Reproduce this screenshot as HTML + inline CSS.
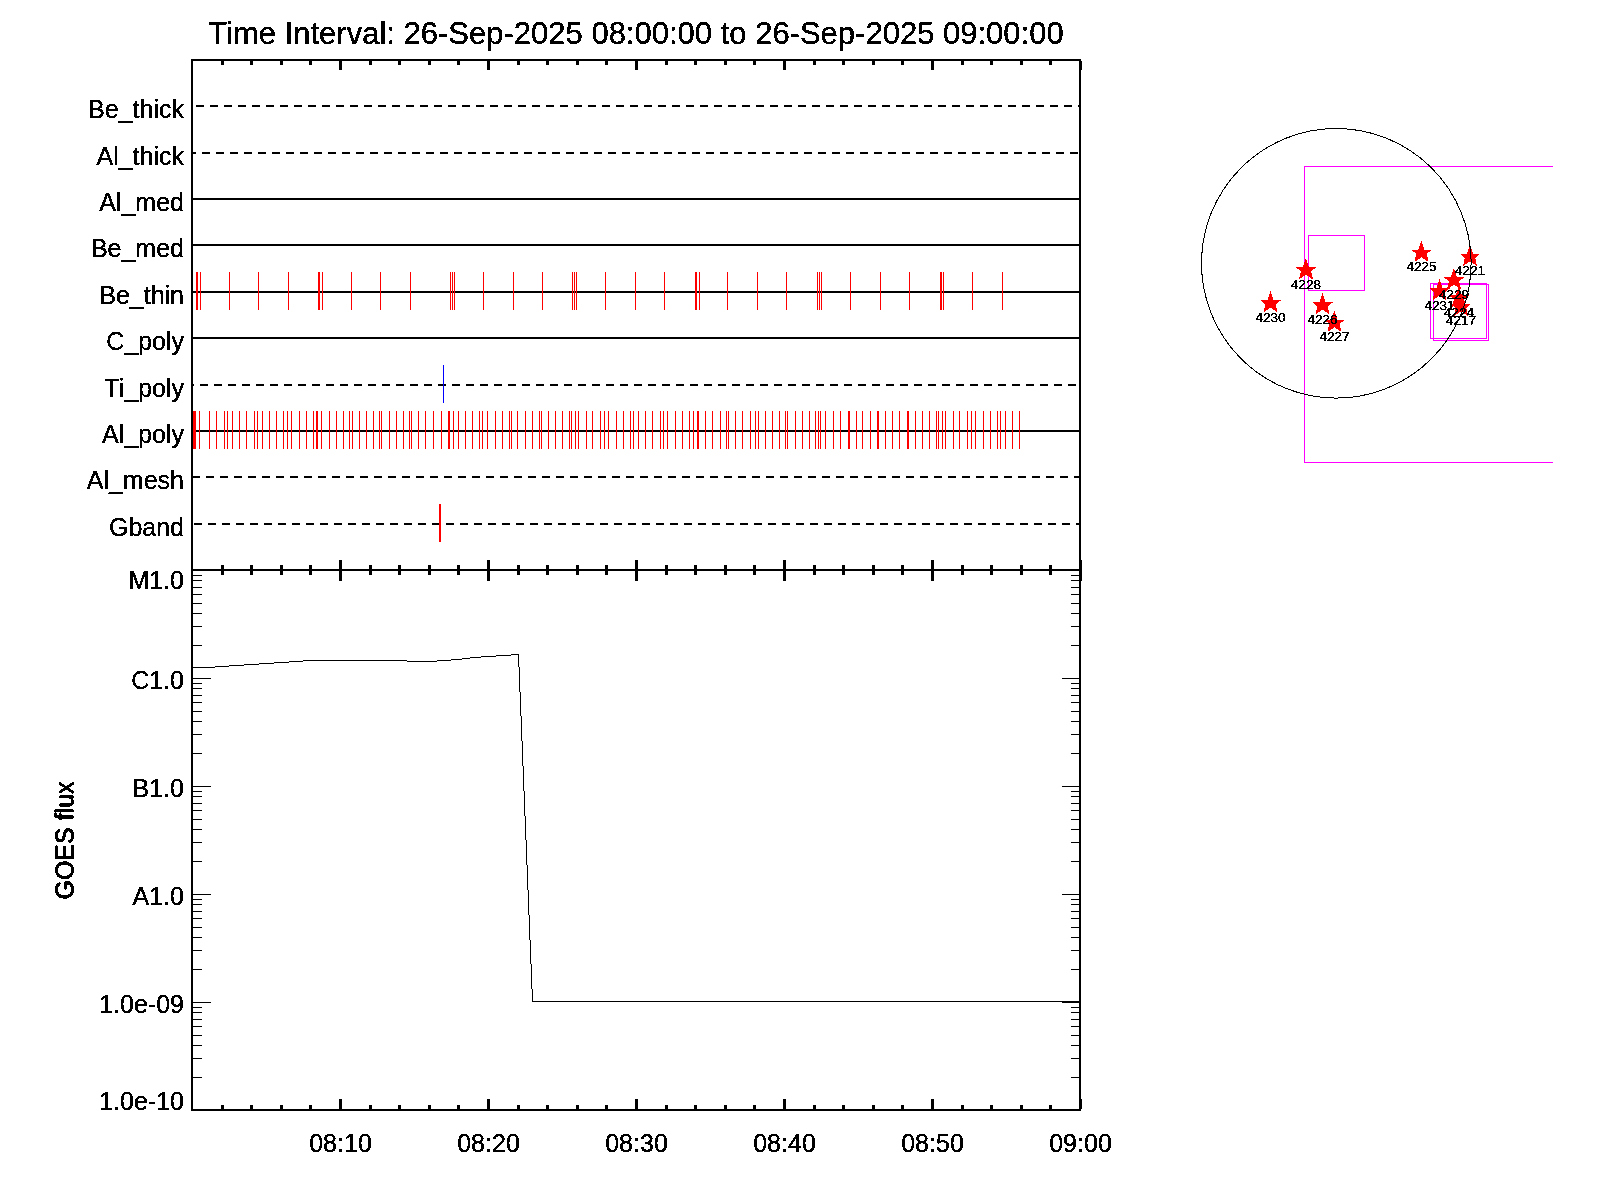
<!DOCTYPE html>
<html><head><meta charset="utf-8"><title>plot</title>
<style>html,body{margin:0;padding:0;background:#fff;width:1600px;height:1200px;overflow:hidden} svg{display:block} text{font-family:"Liberation Sans",sans-serif}</style>
</head><body>
<svg width="1600" height="1200" viewBox="0 0 1600 1200" shape-rendering="crispEdges" font-family='"Liberation Sans", sans-serif' fill="#000"><defs><filter id="al" filterUnits="userSpaceOnUse" x="0" y="0" width="1600" height="1200" color-interpolation-filters="sRGB"><feComponentTransfer><feFuncA type="discrete" tableValues="0 1 1 1"/></feComponentTransfer></filter></defs><rect x="191" y="59" width="890" height="2" fill="#000"/>
<rect x="191" y="569" width="890" height="2" fill="#000"/>
<rect x="191" y="1109" width="890" height="2" fill="#000"/>
<rect x="191" y="59" width="2" height="1052" fill="#000"/>
<rect x="1079" y="59" width="2" height="1052" fill="#000"/>
<rect x="221" y="61" width="3" height="4" fill="#000"/>
<rect x="221" y="565" width="3" height="10" fill="#000"/>
<rect x="221" y="1105" width="3" height="4" fill="#000"/>
<rect x="250" y="61" width="3" height="4" fill="#000"/>
<rect x="250" y="565" width="3" height="10" fill="#000"/>
<rect x="250" y="1105" width="3" height="4" fill="#000"/>
<rect x="280" y="61" width="3" height="4" fill="#000"/>
<rect x="280" y="565" width="3" height="10" fill="#000"/>
<rect x="280" y="1105" width="3" height="4" fill="#000"/>
<rect x="309" y="61" width="3" height="4" fill="#000"/>
<rect x="309" y="565" width="3" height="10" fill="#000"/>
<rect x="309" y="1105" width="3" height="4" fill="#000"/>
<rect x="339" y="61" width="3" height="9" fill="#000"/>
<rect x="339" y="560" width="3" height="21" fill="#000"/>
<rect x="339" y="1099" width="3" height="10" fill="#000"/>
<rect x="369" y="61" width="3" height="4" fill="#000"/>
<rect x="369" y="565" width="3" height="10" fill="#000"/>
<rect x="369" y="1105" width="3" height="4" fill="#000"/>
<rect x="398" y="61" width="3" height="4" fill="#000"/>
<rect x="398" y="565" width="3" height="10" fill="#000"/>
<rect x="398" y="1105" width="3" height="4" fill="#000"/>
<rect x="428" y="61" width="3" height="4" fill="#000"/>
<rect x="428" y="565" width="3" height="10" fill="#000"/>
<rect x="428" y="1105" width="3" height="4" fill="#000"/>
<rect x="457" y="61" width="3" height="4" fill="#000"/>
<rect x="457" y="565" width="3" height="10" fill="#000"/>
<rect x="457" y="1105" width="3" height="4" fill="#000"/>
<rect x="487" y="61" width="3" height="9" fill="#000"/>
<rect x="487" y="560" width="3" height="21" fill="#000"/>
<rect x="487" y="1099" width="3" height="10" fill="#000"/>
<rect x="517" y="61" width="3" height="4" fill="#000"/>
<rect x="517" y="565" width="3" height="10" fill="#000"/>
<rect x="517" y="1105" width="3" height="4" fill="#000"/>
<rect x="546" y="61" width="3" height="4" fill="#000"/>
<rect x="546" y="565" width="3" height="10" fill="#000"/>
<rect x="546" y="1105" width="3" height="4" fill="#000"/>
<rect x="576" y="61" width="3" height="4" fill="#000"/>
<rect x="576" y="565" width="3" height="10" fill="#000"/>
<rect x="576" y="1105" width="3" height="4" fill="#000"/>
<rect x="605" y="61" width="3" height="4" fill="#000"/>
<rect x="605" y="565" width="3" height="10" fill="#000"/>
<rect x="605" y="1105" width="3" height="4" fill="#000"/>
<rect x="635" y="61" width="3" height="9" fill="#000"/>
<rect x="635" y="560" width="3" height="21" fill="#000"/>
<rect x="635" y="1099" width="3" height="10" fill="#000"/>
<rect x="665" y="61" width="3" height="4" fill="#000"/>
<rect x="665" y="565" width="3" height="10" fill="#000"/>
<rect x="665" y="1105" width="3" height="4" fill="#000"/>
<rect x="694" y="61" width="3" height="4" fill="#000"/>
<rect x="694" y="565" width="3" height="10" fill="#000"/>
<rect x="694" y="1105" width="3" height="4" fill="#000"/>
<rect x="724" y="61" width="3" height="4" fill="#000"/>
<rect x="724" y="565" width="3" height="10" fill="#000"/>
<rect x="724" y="1105" width="3" height="4" fill="#000"/>
<rect x="753" y="61" width="3" height="4" fill="#000"/>
<rect x="753" y="565" width="3" height="10" fill="#000"/>
<rect x="753" y="1105" width="3" height="4" fill="#000"/>
<rect x="783" y="61" width="3" height="9" fill="#000"/>
<rect x="783" y="560" width="3" height="21" fill="#000"/>
<rect x="783" y="1099" width="3" height="10" fill="#000"/>
<rect x="813" y="61" width="3" height="4" fill="#000"/>
<rect x="813" y="565" width="3" height="10" fill="#000"/>
<rect x="813" y="1105" width="3" height="4" fill="#000"/>
<rect x="842" y="61" width="3" height="4" fill="#000"/>
<rect x="842" y="565" width="3" height="10" fill="#000"/>
<rect x="842" y="1105" width="3" height="4" fill="#000"/>
<rect x="872" y="61" width="3" height="4" fill="#000"/>
<rect x="872" y="565" width="3" height="10" fill="#000"/>
<rect x="872" y="1105" width="3" height="4" fill="#000"/>
<rect x="901" y="61" width="3" height="4" fill="#000"/>
<rect x="901" y="565" width="3" height="10" fill="#000"/>
<rect x="901" y="1105" width="3" height="4" fill="#000"/>
<rect x="931" y="61" width="3" height="9" fill="#000"/>
<rect x="931" y="560" width="3" height="21" fill="#000"/>
<rect x="931" y="1099" width="3" height="10" fill="#000"/>
<rect x="961" y="61" width="3" height="4" fill="#000"/>
<rect x="961" y="565" width="3" height="10" fill="#000"/>
<rect x="961" y="1105" width="3" height="4" fill="#000"/>
<rect x="990" y="61" width="3" height="4" fill="#000"/>
<rect x="990" y="565" width="3" height="10" fill="#000"/>
<rect x="990" y="1105" width="3" height="4" fill="#000"/>
<rect x="1020" y="61" width="3" height="4" fill="#000"/>
<rect x="1020" y="565" width="3" height="10" fill="#000"/>
<rect x="1020" y="1105" width="3" height="4" fill="#000"/>
<rect x="1049" y="61" width="3" height="4" fill="#000"/>
<rect x="1049" y="565" width="3" height="10" fill="#000"/>
<rect x="1049" y="1105" width="3" height="4" fill="#000"/>
<rect x="1079" y="61" width="3" height="9" fill="#000"/>
<rect x="1079" y="560" width="3" height="21" fill="#000"/>
<rect x="1079" y="1099" width="3" height="10" fill="#000"/>
<rect x="196" y="105" width="8" height="2" fill="#000"/>
<rect x="210" y="105" width="8" height="2" fill="#000"/>
<rect x="224" y="105" width="8" height="2" fill="#000"/>
<rect x="238" y="105" width="8" height="2" fill="#000"/>
<rect x="252" y="105" width="8" height="2" fill="#000"/>
<rect x="266" y="105" width="8" height="2" fill="#000"/>
<rect x="280" y="105" width="8" height="2" fill="#000"/>
<rect x="294" y="105" width="8" height="2" fill="#000"/>
<rect x="308" y="105" width="8" height="2" fill="#000"/>
<rect x="322" y="105" width="8" height="2" fill="#000"/>
<rect x="336" y="105" width="8" height="2" fill="#000"/>
<rect x="350" y="105" width="8" height="2" fill="#000"/>
<rect x="364" y="105" width="8" height="2" fill="#000"/>
<rect x="378" y="105" width="8" height="2" fill="#000"/>
<rect x="392" y="105" width="8" height="2" fill="#000"/>
<rect x="406" y="105" width="8" height="2" fill="#000"/>
<rect x="420" y="105" width="8" height="2" fill="#000"/>
<rect x="434" y="105" width="8" height="2" fill="#000"/>
<rect x="448" y="105" width="8" height="2" fill="#000"/>
<rect x="462" y="105" width="8" height="2" fill="#000"/>
<rect x="476" y="105" width="8" height="2" fill="#000"/>
<rect x="490" y="105" width="8" height="2" fill="#000"/>
<rect x="504" y="105" width="8" height="2" fill="#000"/>
<rect x="518" y="105" width="8" height="2" fill="#000"/>
<rect x="532" y="105" width="8" height="2" fill="#000"/>
<rect x="546" y="105" width="8" height="2" fill="#000"/>
<rect x="560" y="105" width="8" height="2" fill="#000"/>
<rect x="574" y="105" width="8" height="2" fill="#000"/>
<rect x="588" y="105" width="8" height="2" fill="#000"/>
<rect x="602" y="105" width="8" height="2" fill="#000"/>
<rect x="616" y="105" width="8" height="2" fill="#000"/>
<rect x="630" y="105" width="8" height="2" fill="#000"/>
<rect x="644" y="105" width="8" height="2" fill="#000"/>
<rect x="658" y="105" width="8" height="2" fill="#000"/>
<rect x="672" y="105" width="8" height="2" fill="#000"/>
<rect x="686" y="105" width="8" height="2" fill="#000"/>
<rect x="700" y="105" width="8" height="2" fill="#000"/>
<rect x="714" y="105" width="8" height="2" fill="#000"/>
<rect x="728" y="105" width="8" height="2" fill="#000"/>
<rect x="742" y="105" width="8" height="2" fill="#000"/>
<rect x="756" y="105" width="8" height="2" fill="#000"/>
<rect x="770" y="105" width="8" height="2" fill="#000"/>
<rect x="784" y="105" width="8" height="2" fill="#000"/>
<rect x="798" y="105" width="8" height="2" fill="#000"/>
<rect x="812" y="105" width="8" height="2" fill="#000"/>
<rect x="826" y="105" width="8" height="2" fill="#000"/>
<rect x="840" y="105" width="8" height="2" fill="#000"/>
<rect x="854" y="105" width="8" height="2" fill="#000"/>
<rect x="868" y="105" width="8" height="2" fill="#000"/>
<rect x="882" y="105" width="8" height="2" fill="#000"/>
<rect x="896" y="105" width="8" height="2" fill="#000"/>
<rect x="910" y="105" width="8" height="2" fill="#000"/>
<rect x="924" y="105" width="8" height="2" fill="#000"/>
<rect x="938" y="105" width="8" height="2" fill="#000"/>
<rect x="952" y="105" width="8" height="2" fill="#000"/>
<rect x="966" y="105" width="8" height="2" fill="#000"/>
<rect x="980" y="105" width="8" height="2" fill="#000"/>
<rect x="994" y="105" width="8" height="2" fill="#000"/>
<rect x="1008" y="105" width="8" height="2" fill="#000"/>
<rect x="1022" y="105" width="8" height="2" fill="#000"/>
<rect x="1036" y="105" width="8" height="2" fill="#000"/>
<rect x="1050" y="105" width="8" height="2" fill="#000"/>
<rect x="1064" y="105" width="8" height="2" fill="#000"/>
<rect x="1078" y="105" width="1" height="2" fill="#000"/>
<rect x="193" y="152" width="3" height="2" fill="#000"/>
<rect x="202" y="152" width="8" height="2" fill="#000"/>
<rect x="216" y="152" width="8" height="2" fill="#000"/>
<rect x="230" y="152" width="8" height="2" fill="#000"/>
<rect x="244" y="152" width="8" height="2" fill="#000"/>
<rect x="258" y="152" width="8" height="2" fill="#000"/>
<rect x="272" y="152" width="8" height="2" fill="#000"/>
<rect x="286" y="152" width="8" height="2" fill="#000"/>
<rect x="300" y="152" width="8" height="2" fill="#000"/>
<rect x="314" y="152" width="8" height="2" fill="#000"/>
<rect x="328" y="152" width="8" height="2" fill="#000"/>
<rect x="342" y="152" width="8" height="2" fill="#000"/>
<rect x="356" y="152" width="8" height="2" fill="#000"/>
<rect x="370" y="152" width="8" height="2" fill="#000"/>
<rect x="384" y="152" width="8" height="2" fill="#000"/>
<rect x="398" y="152" width="8" height="2" fill="#000"/>
<rect x="412" y="152" width="8" height="2" fill="#000"/>
<rect x="426" y="152" width="8" height="2" fill="#000"/>
<rect x="440" y="152" width="8" height="2" fill="#000"/>
<rect x="454" y="152" width="8" height="2" fill="#000"/>
<rect x="468" y="152" width="8" height="2" fill="#000"/>
<rect x="482" y="152" width="8" height="2" fill="#000"/>
<rect x="496" y="152" width="8" height="2" fill="#000"/>
<rect x="510" y="152" width="8" height="2" fill="#000"/>
<rect x="524" y="152" width="8" height="2" fill="#000"/>
<rect x="538" y="152" width="8" height="2" fill="#000"/>
<rect x="552" y="152" width="8" height="2" fill="#000"/>
<rect x="566" y="152" width="8" height="2" fill="#000"/>
<rect x="580" y="152" width="8" height="2" fill="#000"/>
<rect x="594" y="152" width="8" height="2" fill="#000"/>
<rect x="608" y="152" width="8" height="2" fill="#000"/>
<rect x="622" y="152" width="8" height="2" fill="#000"/>
<rect x="636" y="152" width="8" height="2" fill="#000"/>
<rect x="650" y="152" width="8" height="2" fill="#000"/>
<rect x="664" y="152" width="8" height="2" fill="#000"/>
<rect x="678" y="152" width="8" height="2" fill="#000"/>
<rect x="692" y="152" width="8" height="2" fill="#000"/>
<rect x="706" y="152" width="8" height="2" fill="#000"/>
<rect x="720" y="152" width="8" height="2" fill="#000"/>
<rect x="734" y="152" width="8" height="2" fill="#000"/>
<rect x="748" y="152" width="8" height="2" fill="#000"/>
<rect x="762" y="152" width="8" height="2" fill="#000"/>
<rect x="776" y="152" width="8" height="2" fill="#000"/>
<rect x="790" y="152" width="8" height="2" fill="#000"/>
<rect x="804" y="152" width="8" height="2" fill="#000"/>
<rect x="818" y="152" width="8" height="2" fill="#000"/>
<rect x="832" y="152" width="8" height="2" fill="#000"/>
<rect x="846" y="152" width="8" height="2" fill="#000"/>
<rect x="860" y="152" width="8" height="2" fill="#000"/>
<rect x="874" y="152" width="8" height="2" fill="#000"/>
<rect x="888" y="152" width="8" height="2" fill="#000"/>
<rect x="902" y="152" width="8" height="2" fill="#000"/>
<rect x="916" y="152" width="8" height="2" fill="#000"/>
<rect x="930" y="152" width="8" height="2" fill="#000"/>
<rect x="944" y="152" width="8" height="2" fill="#000"/>
<rect x="958" y="152" width="8" height="2" fill="#000"/>
<rect x="972" y="152" width="8" height="2" fill="#000"/>
<rect x="986" y="152" width="8" height="2" fill="#000"/>
<rect x="1000" y="152" width="8" height="2" fill="#000"/>
<rect x="1014" y="152" width="8" height="2" fill="#000"/>
<rect x="1028" y="152" width="8" height="2" fill="#000"/>
<rect x="1042" y="152" width="8" height="2" fill="#000"/>
<rect x="1056" y="152" width="8" height="2" fill="#000"/>
<rect x="1070" y="152" width="8" height="2" fill="#000"/>
<rect x="193" y="198" width="886" height="2" fill="#000"/>
<rect x="193" y="244" width="886" height="2" fill="#000"/>
<rect x="193" y="291" width="886" height="2" fill="#000"/>
<rect x="193" y="337" width="886" height="2" fill="#000"/>
<rect x="193" y="384" width="1" height="2" fill="#000"/>
<rect x="200" y="384" width="8" height="2" fill="#000"/>
<rect x="214" y="384" width="8" height="2" fill="#000"/>
<rect x="228" y="384" width="8" height="2" fill="#000"/>
<rect x="242" y="384" width="8" height="2" fill="#000"/>
<rect x="256" y="384" width="8" height="2" fill="#000"/>
<rect x="270" y="384" width="8" height="2" fill="#000"/>
<rect x="284" y="384" width="8" height="2" fill="#000"/>
<rect x="298" y="384" width="8" height="2" fill="#000"/>
<rect x="312" y="384" width="8" height="2" fill="#000"/>
<rect x="326" y="384" width="8" height="2" fill="#000"/>
<rect x="340" y="384" width="8" height="2" fill="#000"/>
<rect x="354" y="384" width="8" height="2" fill="#000"/>
<rect x="368" y="384" width="8" height="2" fill="#000"/>
<rect x="382" y="384" width="8" height="2" fill="#000"/>
<rect x="396" y="384" width="8" height="2" fill="#000"/>
<rect x="410" y="384" width="8" height="2" fill="#000"/>
<rect x="424" y="384" width="8" height="2" fill="#000"/>
<rect x="438" y="384" width="8" height="2" fill="#000"/>
<rect x="452" y="384" width="8" height="2" fill="#000"/>
<rect x="466" y="384" width="8" height="2" fill="#000"/>
<rect x="480" y="384" width="8" height="2" fill="#000"/>
<rect x="494" y="384" width="8" height="2" fill="#000"/>
<rect x="508" y="384" width="8" height="2" fill="#000"/>
<rect x="522" y="384" width="8" height="2" fill="#000"/>
<rect x="536" y="384" width="8" height="2" fill="#000"/>
<rect x="550" y="384" width="8" height="2" fill="#000"/>
<rect x="564" y="384" width="8" height="2" fill="#000"/>
<rect x="578" y="384" width="8" height="2" fill="#000"/>
<rect x="592" y="384" width="8" height="2" fill="#000"/>
<rect x="606" y="384" width="8" height="2" fill="#000"/>
<rect x="620" y="384" width="8" height="2" fill="#000"/>
<rect x="634" y="384" width="8" height="2" fill="#000"/>
<rect x="648" y="384" width="8" height="2" fill="#000"/>
<rect x="662" y="384" width="8" height="2" fill="#000"/>
<rect x="676" y="384" width="8" height="2" fill="#000"/>
<rect x="690" y="384" width="8" height="2" fill="#000"/>
<rect x="704" y="384" width="8" height="2" fill="#000"/>
<rect x="718" y="384" width="8" height="2" fill="#000"/>
<rect x="732" y="384" width="8" height="2" fill="#000"/>
<rect x="746" y="384" width="8" height="2" fill="#000"/>
<rect x="760" y="384" width="8" height="2" fill="#000"/>
<rect x="774" y="384" width="8" height="2" fill="#000"/>
<rect x="788" y="384" width="8" height="2" fill="#000"/>
<rect x="802" y="384" width="8" height="2" fill="#000"/>
<rect x="816" y="384" width="8" height="2" fill="#000"/>
<rect x="830" y="384" width="8" height="2" fill="#000"/>
<rect x="844" y="384" width="8" height="2" fill="#000"/>
<rect x="858" y="384" width="8" height="2" fill="#000"/>
<rect x="872" y="384" width="8" height="2" fill="#000"/>
<rect x="886" y="384" width="8" height="2" fill="#000"/>
<rect x="900" y="384" width="8" height="2" fill="#000"/>
<rect x="914" y="384" width="8" height="2" fill="#000"/>
<rect x="928" y="384" width="8" height="2" fill="#000"/>
<rect x="942" y="384" width="8" height="2" fill="#000"/>
<rect x="956" y="384" width="8" height="2" fill="#000"/>
<rect x="970" y="384" width="8" height="2" fill="#000"/>
<rect x="984" y="384" width="8" height="2" fill="#000"/>
<rect x="998" y="384" width="8" height="2" fill="#000"/>
<rect x="1012" y="384" width="8" height="2" fill="#000"/>
<rect x="1026" y="384" width="8" height="2" fill="#000"/>
<rect x="1040" y="384" width="8" height="2" fill="#000"/>
<rect x="1054" y="384" width="8" height="2" fill="#000"/>
<rect x="1068" y="384" width="8" height="2" fill="#000"/>
<rect x="193" y="430" width="886" height="2" fill="#000"/>
<rect x="193" y="476" width="7" height="2" fill="#000"/>
<rect x="206" y="476" width="8" height="2" fill="#000"/>
<rect x="220" y="476" width="8" height="2" fill="#000"/>
<rect x="234" y="476" width="8" height="2" fill="#000"/>
<rect x="248" y="476" width="8" height="2" fill="#000"/>
<rect x="262" y="476" width="8" height="2" fill="#000"/>
<rect x="276" y="476" width="8" height="2" fill="#000"/>
<rect x="290" y="476" width="8" height="2" fill="#000"/>
<rect x="304" y="476" width="8" height="2" fill="#000"/>
<rect x="318" y="476" width="8" height="2" fill="#000"/>
<rect x="332" y="476" width="8" height="2" fill="#000"/>
<rect x="346" y="476" width="8" height="2" fill="#000"/>
<rect x="360" y="476" width="8" height="2" fill="#000"/>
<rect x="374" y="476" width="8" height="2" fill="#000"/>
<rect x="388" y="476" width="8" height="2" fill="#000"/>
<rect x="402" y="476" width="8" height="2" fill="#000"/>
<rect x="416" y="476" width="8" height="2" fill="#000"/>
<rect x="430" y="476" width="8" height="2" fill="#000"/>
<rect x="444" y="476" width="8" height="2" fill="#000"/>
<rect x="458" y="476" width="8" height="2" fill="#000"/>
<rect x="472" y="476" width="8" height="2" fill="#000"/>
<rect x="486" y="476" width="8" height="2" fill="#000"/>
<rect x="500" y="476" width="8" height="2" fill="#000"/>
<rect x="514" y="476" width="8" height="2" fill="#000"/>
<rect x="528" y="476" width="8" height="2" fill="#000"/>
<rect x="542" y="476" width="8" height="2" fill="#000"/>
<rect x="556" y="476" width="8" height="2" fill="#000"/>
<rect x="570" y="476" width="8" height="2" fill="#000"/>
<rect x="584" y="476" width="8" height="2" fill="#000"/>
<rect x="598" y="476" width="8" height="2" fill="#000"/>
<rect x="612" y="476" width="8" height="2" fill="#000"/>
<rect x="626" y="476" width="8" height="2" fill="#000"/>
<rect x="640" y="476" width="8" height="2" fill="#000"/>
<rect x="654" y="476" width="8" height="2" fill="#000"/>
<rect x="668" y="476" width="8" height="2" fill="#000"/>
<rect x="682" y="476" width="8" height="2" fill="#000"/>
<rect x="696" y="476" width="8" height="2" fill="#000"/>
<rect x="710" y="476" width="8" height="2" fill="#000"/>
<rect x="724" y="476" width="8" height="2" fill="#000"/>
<rect x="738" y="476" width="8" height="2" fill="#000"/>
<rect x="752" y="476" width="8" height="2" fill="#000"/>
<rect x="766" y="476" width="8" height="2" fill="#000"/>
<rect x="780" y="476" width="8" height="2" fill="#000"/>
<rect x="794" y="476" width="8" height="2" fill="#000"/>
<rect x="808" y="476" width="8" height="2" fill="#000"/>
<rect x="822" y="476" width="8" height="2" fill="#000"/>
<rect x="836" y="476" width="8" height="2" fill="#000"/>
<rect x="850" y="476" width="8" height="2" fill="#000"/>
<rect x="864" y="476" width="8" height="2" fill="#000"/>
<rect x="878" y="476" width="8" height="2" fill="#000"/>
<rect x="892" y="476" width="8" height="2" fill="#000"/>
<rect x="906" y="476" width="8" height="2" fill="#000"/>
<rect x="920" y="476" width="8" height="2" fill="#000"/>
<rect x="934" y="476" width="8" height="2" fill="#000"/>
<rect x="948" y="476" width="8" height="2" fill="#000"/>
<rect x="962" y="476" width="8" height="2" fill="#000"/>
<rect x="976" y="476" width="8" height="2" fill="#000"/>
<rect x="990" y="476" width="8" height="2" fill="#000"/>
<rect x="1004" y="476" width="8" height="2" fill="#000"/>
<rect x="1018" y="476" width="8" height="2" fill="#000"/>
<rect x="1032" y="476" width="8" height="2" fill="#000"/>
<rect x="1046" y="476" width="8" height="2" fill="#000"/>
<rect x="1060" y="476" width="8" height="2" fill="#000"/>
<rect x="1074" y="476" width="5" height="2" fill="#000"/>
<rect x="194" y="523" width="8" height="2" fill="#000"/>
<rect x="208" y="523" width="8" height="2" fill="#000"/>
<rect x="222" y="523" width="8" height="2" fill="#000"/>
<rect x="236" y="523" width="8" height="2" fill="#000"/>
<rect x="250" y="523" width="8" height="2" fill="#000"/>
<rect x="264" y="523" width="8" height="2" fill="#000"/>
<rect x="278" y="523" width="8" height="2" fill="#000"/>
<rect x="292" y="523" width="8" height="2" fill="#000"/>
<rect x="306" y="523" width="8" height="2" fill="#000"/>
<rect x="320" y="523" width="8" height="2" fill="#000"/>
<rect x="334" y="523" width="8" height="2" fill="#000"/>
<rect x="348" y="523" width="8" height="2" fill="#000"/>
<rect x="362" y="523" width="8" height="2" fill="#000"/>
<rect x="376" y="523" width="8" height="2" fill="#000"/>
<rect x="390" y="523" width="8" height="2" fill="#000"/>
<rect x="404" y="523" width="8" height="2" fill="#000"/>
<rect x="418" y="523" width="8" height="2" fill="#000"/>
<rect x="432" y="523" width="8" height="2" fill="#000"/>
<rect x="446" y="523" width="8" height="2" fill="#000"/>
<rect x="460" y="523" width="8" height="2" fill="#000"/>
<rect x="474" y="523" width="8" height="2" fill="#000"/>
<rect x="488" y="523" width="8" height="2" fill="#000"/>
<rect x="502" y="523" width="8" height="2" fill="#000"/>
<rect x="516" y="523" width="8" height="2" fill="#000"/>
<rect x="530" y="523" width="8" height="2" fill="#000"/>
<rect x="544" y="523" width="8" height="2" fill="#000"/>
<rect x="558" y="523" width="8" height="2" fill="#000"/>
<rect x="572" y="523" width="8" height="2" fill="#000"/>
<rect x="586" y="523" width="8" height="2" fill="#000"/>
<rect x="600" y="523" width="8" height="2" fill="#000"/>
<rect x="614" y="523" width="8" height="2" fill="#000"/>
<rect x="628" y="523" width="8" height="2" fill="#000"/>
<rect x="642" y="523" width="8" height="2" fill="#000"/>
<rect x="656" y="523" width="8" height="2" fill="#000"/>
<rect x="670" y="523" width="8" height="2" fill="#000"/>
<rect x="684" y="523" width="8" height="2" fill="#000"/>
<rect x="698" y="523" width="8" height="2" fill="#000"/>
<rect x="712" y="523" width="8" height="2" fill="#000"/>
<rect x="726" y="523" width="8" height="2" fill="#000"/>
<rect x="740" y="523" width="8" height="2" fill="#000"/>
<rect x="754" y="523" width="8" height="2" fill="#000"/>
<rect x="768" y="523" width="8" height="2" fill="#000"/>
<rect x="782" y="523" width="8" height="2" fill="#000"/>
<rect x="796" y="523" width="8" height="2" fill="#000"/>
<rect x="810" y="523" width="8" height="2" fill="#000"/>
<rect x="824" y="523" width="8" height="2" fill="#000"/>
<rect x="838" y="523" width="8" height="2" fill="#000"/>
<rect x="852" y="523" width="8" height="2" fill="#000"/>
<rect x="866" y="523" width="8" height="2" fill="#000"/>
<rect x="880" y="523" width="8" height="2" fill="#000"/>
<rect x="894" y="523" width="8" height="2" fill="#000"/>
<rect x="908" y="523" width="8" height="2" fill="#000"/>
<rect x="922" y="523" width="8" height="2" fill="#000"/>
<rect x="936" y="523" width="8" height="2" fill="#000"/>
<rect x="950" y="523" width="8" height="2" fill="#000"/>
<rect x="964" y="523" width="8" height="2" fill="#000"/>
<rect x="978" y="523" width="8" height="2" fill="#000"/>
<rect x="992" y="523" width="8" height="2" fill="#000"/>
<rect x="1006" y="523" width="8" height="2" fill="#000"/>
<rect x="1020" y="523" width="8" height="2" fill="#000"/>
<rect x="1034" y="523" width="8" height="2" fill="#000"/>
<rect x="1048" y="523" width="8" height="2" fill="#000"/>
<rect x="1062" y="523" width="8" height="2" fill="#000"/>
<rect x="1076" y="523" width="3" height="2" fill="#000"/>
<rect x="196" y="272" width="1" height="38" fill="#f00"/>
<rect x="197" y="272" width="1" height="38" fill="#f00"/>
<rect x="200" y="272" width="1" height="38" fill="#f00"/>
<rect x="229" y="272" width="1" height="38" fill="#f00"/>
<rect x="258" y="272" width="1" height="38" fill="#f00"/>
<rect x="288" y="272" width="1" height="38" fill="#f00"/>
<rect x="318" y="272" width="1" height="38" fill="#f00"/>
<rect x="319" y="272" width="1" height="38" fill="#f00"/>
<rect x="322" y="272" width="1" height="38" fill="#f00"/>
<rect x="351" y="272" width="1" height="38" fill="#f00"/>
<rect x="380" y="272" width="1" height="38" fill="#f00"/>
<rect x="410" y="272" width="1" height="38" fill="#f00"/>
<rect x="450" y="272" width="1" height="38" fill="#f00"/>
<rect x="452" y="272" width="1" height="38" fill="#f00"/>
<rect x="454" y="272" width="1" height="38" fill="#f00"/>
<rect x="483" y="272" width="1" height="38" fill="#f00"/>
<rect x="513" y="272" width="1" height="38" fill="#f00"/>
<rect x="542" y="272" width="1" height="38" fill="#f00"/>
<rect x="572" y="272" width="1" height="38" fill="#f00"/>
<rect x="574" y="272" width="1" height="38" fill="#f00"/>
<rect x="576" y="272" width="1" height="38" fill="#f00"/>
<rect x="605" y="272" width="1" height="38" fill="#f00"/>
<rect x="635" y="272" width="1" height="38" fill="#f00"/>
<rect x="664" y="272" width="1" height="38" fill="#f00"/>
<rect x="695" y="272" width="1" height="38" fill="#f00"/>
<rect x="696" y="272" width="1" height="38" fill="#f00"/>
<rect x="699" y="272" width="1" height="38" fill="#f00"/>
<rect x="727" y="272" width="1" height="38" fill="#f00"/>
<rect x="757" y="272" width="1" height="38" fill="#f00"/>
<rect x="786" y="272" width="1" height="38" fill="#f00"/>
<rect x="817" y="272" width="1" height="38" fill="#f00"/>
<rect x="819" y="272" width="1" height="38" fill="#f00"/>
<rect x="821" y="272" width="1" height="38" fill="#f00"/>
<rect x="850" y="272" width="1" height="38" fill="#f00"/>
<rect x="880" y="272" width="1" height="38" fill="#f00"/>
<rect x="909" y="272" width="1" height="38" fill="#f00"/>
<rect x="940" y="272" width="1" height="38" fill="#f00"/>
<rect x="941" y="272" width="1" height="38" fill="#f00"/>
<rect x="943" y="272" width="1" height="38" fill="#f00"/>
<rect x="972" y="272" width="1" height="38" fill="#f00"/>
<rect x="1002" y="272" width="1" height="38" fill="#f00"/>
<rect x="193" y="411" width="1" height="38" fill="#f00"/>
<rect x="194" y="411" width="1" height="38" fill="#f00"/>
<rect x="195" y="411" width="1" height="38" fill="#f00"/>
<rect x="199" y="411" width="1" height="38" fill="#f00"/>
<rect x="209" y="411" width="1" height="38" fill="#f00"/>
<rect x="216" y="411" width="1" height="38" fill="#f00"/>
<rect x="224" y="411" width="1" height="38" fill="#f00"/>
<rect x="227" y="411" width="1" height="38" fill="#f00"/>
<rect x="232" y="411" width="1" height="38" fill="#f00"/>
<rect x="239" y="411" width="1" height="38" fill="#f00"/>
<rect x="246" y="411" width="1" height="38" fill="#f00"/>
<rect x="254" y="411" width="1" height="38" fill="#f00"/>
<rect x="257" y="411" width="1" height="38" fill="#f00"/>
<rect x="262" y="411" width="1" height="38" fill="#f00"/>
<rect x="269" y="411" width="1" height="38" fill="#f00"/>
<rect x="276" y="411" width="1" height="38" fill="#f00"/>
<rect x="283" y="411" width="1" height="38" fill="#f00"/>
<rect x="287" y="411" width="1" height="38" fill="#f00"/>
<rect x="291" y="411" width="1" height="38" fill="#f00"/>
<rect x="299" y="411" width="1" height="38" fill="#f00"/>
<rect x="306" y="411" width="1" height="38" fill="#f00"/>
<rect x="313" y="411" width="1" height="38" fill="#f00"/>
<rect x="316" y="411" width="1" height="38" fill="#f00"/>
<rect x="317" y="411" width="1" height="38" fill="#f00"/>
<rect x="321" y="411" width="1" height="38" fill="#f00"/>
<rect x="329" y="411" width="1" height="38" fill="#f00"/>
<rect x="336" y="411" width="1" height="38" fill="#f00"/>
<rect x="343" y="411" width="1" height="38" fill="#f00"/>
<rect x="349" y="411" width="1" height="38" fill="#f00"/>
<rect x="352" y="411" width="1" height="38" fill="#f00"/>
<rect x="359" y="411" width="1" height="38" fill="#f00"/>
<rect x="366" y="411" width="1" height="38" fill="#f00"/>
<rect x="373" y="411" width="1" height="38" fill="#f00"/>
<rect x="379" y="411" width="1" height="38" fill="#f00"/>
<rect x="381" y="411" width="1" height="38" fill="#f00"/>
<rect x="389" y="411" width="1" height="38" fill="#f00"/>
<rect x="396" y="411" width="1" height="38" fill="#f00"/>
<rect x="403" y="411" width="1" height="38" fill="#f00"/>
<rect x="409" y="411" width="1" height="38" fill="#f00"/>
<rect x="411" y="411" width="1" height="38" fill="#f00"/>
<rect x="418" y="411" width="1" height="38" fill="#f00"/>
<rect x="425" y="411" width="1" height="38" fill="#f00"/>
<rect x="433" y="411" width="1" height="38" fill="#f00"/>
<rect x="441" y="411" width="1" height="38" fill="#f00"/>
<rect x="448" y="411" width="1" height="38" fill="#f00"/>
<rect x="449" y="411" width="1" height="38" fill="#f00"/>
<rect x="453" y="411" width="1" height="38" fill="#f00"/>
<rect x="458" y="411" width="1" height="38" fill="#f00"/>
<rect x="465" y="411" width="1" height="38" fill="#f00"/>
<rect x="472" y="411" width="1" height="38" fill="#f00"/>
<rect x="479" y="411" width="1" height="38" fill="#f00"/>
<rect x="482" y="411" width="1" height="38" fill="#f00"/>
<rect x="487" y="411" width="1" height="38" fill="#f00"/>
<rect x="495" y="411" width="1" height="38" fill="#f00"/>
<rect x="502" y="411" width="1" height="38" fill="#f00"/>
<rect x="509" y="411" width="1" height="38" fill="#f00"/>
<rect x="511" y="411" width="1" height="38" fill="#f00"/>
<rect x="517" y="411" width="1" height="38" fill="#f00"/>
<rect x="525" y="411" width="1" height="38" fill="#f00"/>
<rect x="532" y="411" width="1" height="38" fill="#f00"/>
<rect x="539" y="411" width="1" height="38" fill="#f00"/>
<rect x="541" y="411" width="1" height="38" fill="#f00"/>
<rect x="548" y="411" width="1" height="38" fill="#f00"/>
<rect x="555" y="411" width="1" height="38" fill="#f00"/>
<rect x="562" y="411" width="1" height="38" fill="#f00"/>
<rect x="569" y="411" width="1" height="38" fill="#f00"/>
<rect x="571" y="411" width="1" height="38" fill="#f00"/>
<rect x="575" y="411" width="1" height="38" fill="#f00"/>
<rect x="578" y="411" width="1" height="38" fill="#f00"/>
<rect x="586" y="411" width="1" height="38" fill="#f00"/>
<rect x="592" y="411" width="1" height="38" fill="#f00"/>
<rect x="600" y="411" width="1" height="38" fill="#f00"/>
<rect x="604" y="411" width="1" height="38" fill="#f00"/>
<rect x="608" y="411" width="1" height="38" fill="#f00"/>
<rect x="616" y="411" width="1" height="38" fill="#f00"/>
<rect x="623" y="411" width="1" height="38" fill="#f00"/>
<rect x="630" y="411" width="1" height="38" fill="#f00"/>
<rect x="633" y="411" width="1" height="38" fill="#f00"/>
<rect x="638" y="411" width="1" height="38" fill="#f00"/>
<rect x="645" y="411" width="1" height="38" fill="#f00"/>
<rect x="652" y="411" width="1" height="38" fill="#f00"/>
<rect x="660" y="411" width="1" height="38" fill="#f00"/>
<rect x="663" y="411" width="1" height="38" fill="#f00"/>
<rect x="667" y="411" width="1" height="38" fill="#f00"/>
<rect x="675" y="411" width="1" height="38" fill="#f00"/>
<rect x="682" y="411" width="1" height="38" fill="#f00"/>
<rect x="689" y="411" width="1" height="38" fill="#f00"/>
<rect x="693" y="411" width="1" height="38" fill="#f00"/>
<rect x="697" y="411" width="1" height="38" fill="#f00"/>
<rect x="698" y="411" width="1" height="38" fill="#f00"/>
<rect x="705" y="411" width="1" height="38" fill="#f00"/>
<rect x="712" y="411" width="1" height="38" fill="#f00"/>
<rect x="720" y="411" width="1" height="38" fill="#f00"/>
<rect x="726" y="411" width="1" height="38" fill="#f00"/>
<rect x="728" y="411" width="1" height="38" fill="#f00"/>
<rect x="735" y="411" width="1" height="38" fill="#f00"/>
<rect x="742" y="411" width="1" height="38" fill="#f00"/>
<rect x="750" y="411" width="1" height="38" fill="#f00"/>
<rect x="755" y="411" width="1" height="38" fill="#f00"/>
<rect x="758" y="411" width="1" height="38" fill="#f00"/>
<rect x="765" y="411" width="1" height="38" fill="#f00"/>
<rect x="772" y="411" width="1" height="38" fill="#f00"/>
<rect x="779" y="411" width="1" height="38" fill="#f00"/>
<rect x="785" y="411" width="1" height="38" fill="#f00"/>
<rect x="787" y="411" width="1" height="38" fill="#f00"/>
<rect x="795" y="411" width="1" height="38" fill="#f00"/>
<rect x="802" y="411" width="1" height="38" fill="#f00"/>
<rect x="809" y="411" width="1" height="38" fill="#f00"/>
<rect x="815" y="411" width="1" height="38" fill="#f00"/>
<rect x="818" y="411" width="1" height="38" fill="#f00"/>
<rect x="820" y="411" width="1" height="38" fill="#f00"/>
<rect x="825" y="411" width="1" height="38" fill="#f00"/>
<rect x="833" y="411" width="1" height="38" fill="#f00"/>
<rect x="840" y="411" width="1" height="38" fill="#f00"/>
<rect x="848" y="411" width="1" height="38" fill="#f00"/>
<rect x="849" y="411" width="1" height="38" fill="#f00"/>
<rect x="856" y="411" width="1" height="38" fill="#f00"/>
<rect x="862" y="411" width="1" height="38" fill="#f00"/>
<rect x="870" y="411" width="1" height="38" fill="#f00"/>
<rect x="877" y="411" width="1" height="38" fill="#f00"/>
<rect x="878" y="411" width="1" height="38" fill="#f00"/>
<rect x="885" y="411" width="1" height="38" fill="#f00"/>
<rect x="892" y="411" width="1" height="38" fill="#f00"/>
<rect x="899" y="411" width="1" height="38" fill="#f00"/>
<rect x="907" y="411" width="1" height="38" fill="#f00"/>
<rect x="908" y="411" width="1" height="38" fill="#f00"/>
<rect x="915" y="411" width="1" height="38" fill="#f00"/>
<rect x="922" y="411" width="1" height="38" fill="#f00"/>
<rect x="929" y="411" width="1" height="38" fill="#f00"/>
<rect x="936" y="411" width="1" height="38" fill="#f00"/>
<rect x="938" y="411" width="1" height="38" fill="#f00"/>
<rect x="942" y="411" width="1" height="38" fill="#f00"/>
<rect x="945" y="411" width="1" height="38" fill="#f00"/>
<rect x="953" y="411" width="1" height="38" fill="#f00"/>
<rect x="959" y="411" width="1" height="38" fill="#f00"/>
<rect x="967" y="411" width="1" height="38" fill="#f00"/>
<rect x="971" y="411" width="1" height="38" fill="#f00"/>
<rect x="975" y="411" width="1" height="38" fill="#f00"/>
<rect x="983" y="411" width="1" height="38" fill="#f00"/>
<rect x="990" y="411" width="1" height="38" fill="#f00"/>
<rect x="997" y="411" width="1" height="38" fill="#f00"/>
<rect x="1000" y="411" width="1" height="38" fill="#f00"/>
<rect x="1005" y="411" width="1" height="38" fill="#f00"/>
<rect x="1012" y="411" width="1" height="38" fill="#f00"/>
<rect x="1019" y="411" width="1" height="38" fill="#f00"/>
<rect x="443" y="365" width="1" height="38" fill="#00f"/>
<rect x="439" y="504" width="2" height="38" fill="#f00"/>
<rect x="193" y="1077" width="9" height="1" fill="#000"/>
<rect x="1071" y="1077" width="8" height="1" fill="#000"/>
<rect x="193" y="1058" width="9" height="1" fill="#000"/>
<rect x="1071" y="1058" width="8" height="1" fill="#000"/>
<rect x="193" y="1045" width="9" height="1" fill="#000"/>
<rect x="1071" y="1045" width="8" height="1" fill="#000"/>
<rect x="193" y="1035" width="9" height="1" fill="#000"/>
<rect x="1071" y="1035" width="8" height="1" fill="#000"/>
<rect x="193" y="1026" width="9" height="1" fill="#000"/>
<rect x="1071" y="1026" width="8" height="1" fill="#000"/>
<rect x="193" y="1019" width="9" height="1" fill="#000"/>
<rect x="1071" y="1019" width="8" height="1" fill="#000"/>
<rect x="193" y="1012" width="9" height="1" fill="#000"/>
<rect x="1071" y="1012" width="8" height="1" fill="#000"/>
<rect x="193" y="1007" width="9" height="1" fill="#000"/>
<rect x="1071" y="1007" width="8" height="1" fill="#000"/>
<rect x="193" y="1002" width="18" height="1" fill="#000"/>
<rect x="1062" y="1002" width="17" height="1" fill="#000"/>
<rect x="193" y="969" width="9" height="1" fill="#000"/>
<rect x="1071" y="969" width="8" height="1" fill="#000"/>
<rect x="193" y="950" width="9" height="1" fill="#000"/>
<rect x="1071" y="950" width="8" height="1" fill="#000"/>
<rect x="193" y="937" width="9" height="1" fill="#000"/>
<rect x="1071" y="937" width="8" height="1" fill="#000"/>
<rect x="193" y="927" width="9" height="1" fill="#000"/>
<rect x="1071" y="927" width="8" height="1" fill="#000"/>
<rect x="193" y="918" width="9" height="1" fill="#000"/>
<rect x="1071" y="918" width="8" height="1" fill="#000"/>
<rect x="193" y="911" width="9" height="1" fill="#000"/>
<rect x="1071" y="911" width="8" height="1" fill="#000"/>
<rect x="193" y="904" width="9" height="1" fill="#000"/>
<rect x="1071" y="904" width="8" height="1" fill="#000"/>
<rect x="193" y="899" width="9" height="1" fill="#000"/>
<rect x="1071" y="899" width="8" height="1" fill="#000"/>
<rect x="193" y="894" width="18" height="1" fill="#000"/>
<rect x="1062" y="894" width="17" height="1" fill="#000"/>
<rect x="193" y="861" width="9" height="1" fill="#000"/>
<rect x="1071" y="861" width="8" height="1" fill="#000"/>
<rect x="193" y="842" width="9" height="1" fill="#000"/>
<rect x="1071" y="842" width="8" height="1" fill="#000"/>
<rect x="193" y="829" width="9" height="1" fill="#000"/>
<rect x="1071" y="829" width="8" height="1" fill="#000"/>
<rect x="193" y="819" width="9" height="1" fill="#000"/>
<rect x="1071" y="819" width="8" height="1" fill="#000"/>
<rect x="193" y="810" width="9" height="1" fill="#000"/>
<rect x="1071" y="810" width="8" height="1" fill="#000"/>
<rect x="193" y="803" width="9" height="1" fill="#000"/>
<rect x="1071" y="803" width="8" height="1" fill="#000"/>
<rect x="193" y="796" width="9" height="1" fill="#000"/>
<rect x="1071" y="796" width="8" height="1" fill="#000"/>
<rect x="193" y="791" width="9" height="1" fill="#000"/>
<rect x="1071" y="791" width="8" height="1" fill="#000"/>
<rect x="193" y="786" width="18" height="1" fill="#000"/>
<rect x="1062" y="786" width="17" height="1" fill="#000"/>
<rect x="193" y="753" width="9" height="1" fill="#000"/>
<rect x="1071" y="753" width="8" height="1" fill="#000"/>
<rect x="193" y="734" width="9" height="1" fill="#000"/>
<rect x="1071" y="734" width="8" height="1" fill="#000"/>
<rect x="193" y="721" width="9" height="1" fill="#000"/>
<rect x="1071" y="721" width="8" height="1" fill="#000"/>
<rect x="193" y="711" width="9" height="1" fill="#000"/>
<rect x="1071" y="711" width="8" height="1" fill="#000"/>
<rect x="193" y="702" width="9" height="1" fill="#000"/>
<rect x="1071" y="702" width="8" height="1" fill="#000"/>
<rect x="193" y="695" width="9" height="1" fill="#000"/>
<rect x="1071" y="695" width="8" height="1" fill="#000"/>
<rect x="193" y="688" width="9" height="1" fill="#000"/>
<rect x="1071" y="688" width="8" height="1" fill="#000"/>
<rect x="193" y="683" width="9" height="1" fill="#000"/>
<rect x="1071" y="683" width="8" height="1" fill="#000"/>
<rect x="193" y="678" width="18" height="1" fill="#000"/>
<rect x="1062" y="678" width="17" height="1" fill="#000"/>
<rect x="193" y="645" width="9" height="1" fill="#000"/>
<rect x="1071" y="645" width="8" height="1" fill="#000"/>
<rect x="193" y="626" width="9" height="1" fill="#000"/>
<rect x="1071" y="626" width="8" height="1" fill="#000"/>
<rect x="193" y="613" width="9" height="1" fill="#000"/>
<rect x="1071" y="613" width="8" height="1" fill="#000"/>
<rect x="193" y="603" width="9" height="1" fill="#000"/>
<rect x="1071" y="603" width="8" height="1" fill="#000"/>
<rect x="193" y="594" width="9" height="1" fill="#000"/>
<rect x="1071" y="594" width="8" height="1" fill="#000"/>
<rect x="193" y="587" width="9" height="1" fill="#000"/>
<rect x="1071" y="587" width="8" height="1" fill="#000"/>
<rect x="193" y="580" width="9" height="1" fill="#000"/>
<rect x="1071" y="580" width="8" height="1" fill="#000"/>
<rect x="193" y="575" width="9" height="1" fill="#000"/>
<rect x="1071" y="575" width="8" height="1" fill="#000"/>
<rect x="193" y="667" width="22" height="1" fill="#000"/>
<rect x="215" y="666" width="14" height="1" fill="#000"/>
<rect x="229" y="665" width="15" height="1" fill="#000"/>
<rect x="244" y="664" width="15" height="1" fill="#000"/>
<rect x="259" y="663" width="15" height="1" fill="#000"/>
<rect x="274" y="662" width="15" height="1" fill="#000"/>
<rect x="289" y="661" width="14" height="1" fill="#000"/>
<rect x="303" y="660" width="104" height="1" fill="#000"/>
<rect x="407" y="661" width="30" height="1" fill="#000"/>
<rect x="437" y="660" width="14" height="1" fill="#000"/>
<rect x="451" y="659" width="11" height="1" fill="#000"/>
<rect x="462" y="658" width="8" height="1" fill="#000"/>
<rect x="470" y="657" width="11" height="1" fill="#000"/>
<rect x="481" y="656" width="15" height="1" fill="#000"/>
<rect x="496" y="655" width="15" height="1" fill="#000"/>
<rect x="511" y="654" width="8" height="1" fill="#000"/>
<rect x="518" y="654" width="1" height="13" fill="#000"/>
<rect x="519" y="667" width="1" height="25" fill="#000"/>
<rect x="520" y="692" width="1" height="24" fill="#000"/>
<rect x="521" y="716" width="1" height="25" fill="#000"/>
<rect x="522" y="741" width="1" height="25" fill="#000"/>
<rect x="523" y="766" width="1" height="25" fill="#000"/>
<rect x="524" y="791" width="1" height="25" fill="#000"/>
<rect x="525" y="816" width="1" height="24" fill="#000"/>
<rect x="526" y="840" width="1" height="25" fill="#000"/>
<rect x="527" y="865" width="1" height="25" fill="#000"/>
<rect x="528" y="890" width="1" height="25" fill="#000"/>
<rect x="529" y="915" width="1" height="25" fill="#000"/>
<rect x="530" y="940" width="1" height="24" fill="#000"/>
<rect x="531" y="964" width="1" height="25" fill="#000"/>
<rect x="532" y="989" width="1" height="13" fill="#000"/>
<rect x="532" y="1001" width="547" height="1" fill="#000"/>
<polyline fill="none" stroke="#f0f" stroke-width="1" points="1553,166.5 1304.5,166.5 1304.5,462.5 1553,462.5"/>
<rect x="1308.5" y="235.5" width="56" height="55" fill="none" stroke="#f0f" stroke-width="1"/>
<rect x="1430.5" y="283.5" width="56" height="55" fill="none" stroke="#f0f" stroke-width="1"/>
<rect x="1433.5" y="284.5" width="55" height="56" fill="none" stroke="#f0f" stroke-width="1"/>
<polygon fill="#f00" points="1439.50,279.00 1442.50,288.00 1449.50,288.50 1444.70,292.30 1446.50,300.50 1439.50,295.80 1432.50,300.50 1434.30,292.30 1429.50,288.50 1436.50,288.00"/>
<polygon fill="#f00" points="1270.50,291.00 1273.50,300.00 1280.50,300.50 1275.70,304.30 1277.50,312.50 1270.50,307.80 1263.50,312.50 1265.30,304.30 1260.50,300.50 1267.50,300.00"/>
<polygon fill="#f00" points="1454.00,268.00 1457.00,277.00 1464.00,277.50 1459.20,281.30 1461.00,289.50 1454.00,284.80 1447.00,289.50 1448.80,281.30 1444.00,277.50 1451.00,277.00"/>
<polygon fill="#f00" points="1306.00,258.00 1309.00,267.00 1316.00,267.50 1311.20,271.30 1313.00,279.50 1306.00,274.80 1299.00,279.50 1300.80,271.30 1296.00,267.50 1303.00,267.00"/>
<polygon fill="#f00" points="1334.50,310.50 1337.50,319.50 1344.50,320.00 1339.70,323.80 1341.50,332.00 1334.50,327.30 1327.50,332.00 1329.30,323.80 1324.50,320.00 1331.50,319.50"/>
<polygon fill="#f00" points="1322.50,293.00 1325.50,302.00 1332.50,302.50 1327.70,306.30 1329.50,314.50 1322.50,309.80 1315.50,314.50 1317.30,306.30 1312.50,302.50 1319.50,302.00"/>
<polygon fill="#f00" points="1421.50,240.50 1424.50,249.50 1431.50,250.00 1426.70,253.80 1428.50,262.00 1421.50,257.30 1414.50,262.00 1416.30,253.80 1411.50,250.00 1418.50,249.50"/>
<polygon fill="#f00" points="1459.00,286.00 1462.00,295.00 1469.00,295.50 1464.20,299.30 1466.00,307.50 1459.00,302.80 1452.00,307.50 1453.80,299.30 1449.00,295.50 1456.00,295.00"/>
<polygon fill="#f00" points="1470.00,244.50 1473.00,253.50 1480.00,254.00 1475.20,257.80 1477.00,266.00 1470.00,261.30 1463.00,266.00 1464.80,257.80 1460.00,254.00 1467.00,253.50"/>
<polygon fill="#f00" points="1461.00,294.50 1464.00,303.50 1471.00,304.00 1466.20,307.80 1468.00,316.00 1461.00,311.30 1454.00,316.00 1455.80,307.80 1451.00,304.00 1458.00,303.50"/>
<circle cx="1336.3" cy="263.3" r="134.8" fill="none" stroke="#000" stroke-width="1"/><g filter="url(#al)"><text x="636" y="44" font-size="31" text-anchor="middle" >Time Interval: 26-Sep-2025 08:00:00 to 26-Sep-2025 09:00:00</text>
<text x="184" y="118" font-size="25" text-anchor="end" >Be_thick</text>
<text x="184" y="165" font-size="25" text-anchor="end" >Al_thick</text>
<text x="184" y="211" font-size="25" text-anchor="end" >Al_med</text>
<text x="184" y="257" font-size="25" text-anchor="end" >Be_med</text>
<text x="184" y="304" font-size="25" text-anchor="end" >Be_thin</text>
<text x="184" y="350" font-size="25" text-anchor="end" >C_poly</text>
<text x="184" y="397" font-size="25" text-anchor="end" >Ti_poly</text>
<text x="184" y="443" font-size="25" text-anchor="end" >Al_poly</text>
<text x="184" y="489" font-size="25" text-anchor="end" >Al_mesh</text>
<text x="184" y="536" font-size="25" text-anchor="end" >Gband</text>
<text x="184" y="589" font-size="25" text-anchor="end" >M1.0</text>
<text x="184" y="689" font-size="25" text-anchor="end" >C1.0</text>
<text x="184" y="797" font-size="25" text-anchor="end" >B1.0</text>
<text x="184" y="905" font-size="25" text-anchor="end" >A1.0</text>
<text x="184" y="1013" font-size="25" text-anchor="end" >1.0e-09</text>
<text x="184" y="1110" font-size="25" text-anchor="end" >1.0e-10</text>
<text x="340.5" y="1152" font-size="25" text-anchor="middle" >08:10</text>
<text x="488.5" y="1152" font-size="25" text-anchor="middle" >08:20</text>
<text x="636.5" y="1152" font-size="25" text-anchor="middle" >08:30</text>
<text x="784.5" y="1152" font-size="25" text-anchor="middle" >08:40</text>
<text x="932.5" y="1152" font-size="25" text-anchor="middle" >08:50</text>
<text x="1080.5" y="1152" font-size="25" text-anchor="middle" >09:00</text>
<text x="73" y="840.5" font-size="25" text-anchor="middle" transform="rotate(-90 73 840.5)">GOES flux</text>
<text x="1439.5" y="309.5" font-size="13.5" text-anchor="middle" >4231</text>
<text x="1270.5" y="321.5" font-size="13.5" text-anchor="middle" >4230</text>
<text x="1454" y="298.5" font-size="13.5" text-anchor="middle" >4229</text>
<text x="1306" y="288.5" font-size="13.5" text-anchor="middle" >4228</text>
<text x="1334.5" y="341" font-size="13.5" text-anchor="middle" >4227</text>
<text x="1322.5" y="323.5" font-size="13.5" text-anchor="middle" >4226</text>
<text x="1421.5" y="271" font-size="13.5" text-anchor="middle" >4225</text>
<text x="1459" y="316.5" font-size="13.5" text-anchor="middle" >4224</text>
<text x="1470" y="275" font-size="13.5" text-anchor="middle" >4221</text>
<text x="1461" y="325" font-size="13.5" text-anchor="middle" >4217</text></g></svg>
</body></html>
